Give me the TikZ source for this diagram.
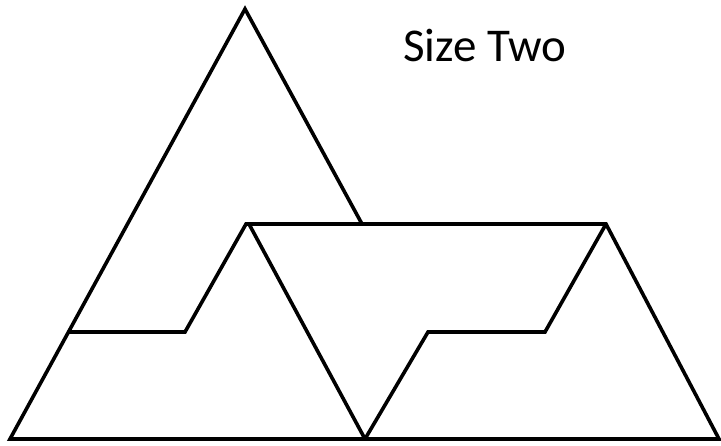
\documentclass[tikz,border=0pt]{standalone}
\usepackage{fontspec}
\setmainfont{Carlito}
\usepackage{tikz}
\tikzset{every node/.append style={font=\rmfamily}}
\tikzset{edge/.style={line width=3.6pt,line join=miter,black}}

\begin{document}
\begin{tikzpicture}[x=1pt,y=-1pt]
\useasboundingbox (0,0) rectangle (721,445);
\coordinate (top) at (245,9); \coordinate (bl) at (10,439); \coordinate (br) at (719,439);
\coordinate (mid) at (365,439); \coordinate (hl) at (246,224); \coordinate (hr) at (606,224);
\coordinate (hj) at (362,224);
\coordinate (la) at (185,332); \coordinate (lb) at (68,332);
\coordinate (ra) at (545,332); \coordinate (rb) at (428,332);
\draw[edge] (hj)--(top)--(bl)--(br)--(hr)--(hl)--(la)--(lb);
\draw[edge] (hr)--(ra)--(rb)--(mid);
\draw[edge] (249,224)--(mid);
\node[anchor=base west,inner sep=0pt,font=\fontsize{47}{52}\selectfont] (title) at (403,61) {Size Two};
\end{tikzpicture}
\end{document}
